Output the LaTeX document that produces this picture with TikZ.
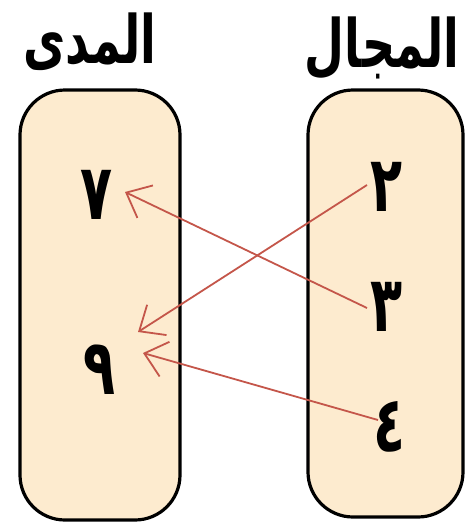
\documentclass[tikz,border=0pt]{standalone}
\usepackage{fontspec}
\usepackage{graphicx}
\newfontfamily\arabicfont[Script=Arabic]{DejaVu Sans}
\TeXXeTstate=1
\usetikzlibrary{arrows.meta}
\definecolor{boxfill}{RGB}{253,235,207}
\definecolor{arrcol}{RGB}{196,86,74}
\newcommand{\tallA}[1]{\scalebox{1.05}[1.55]{#1}}
\newcommand{\tallT}[1]{\scalebox{1.0}[1.45]{#1}}
\tikzset{
  setbox/.style={draw=black, line width=3.2pt, fill=boxfill, rounded corners=45pt, inner sep=0pt},
  digit/.style={font=\arabicfont\bfseries\fontsize{50}{54}\selectfont, inner sep=0pt},
  title/.style={font=\arabicfont\bfseries\fontsize{46}{50}\selectfont, inner sep=0pt},
  arr/.style={draw=arrcol, line width=1.8pt, -{Straight Barb[length=21pt,width=36pt,line width=1.8pt]}}
}
\begin{document}
\begin{tikzpicture}[x=1pt,y=-1pt]
\useasboundingbox (0,0) rectangle (465,530);
\node[setbox, minimum width=160pt, minimum height=430pt] (range) at (100,305) {};
\node[setbox, minimum width=155pt, minimum height=427pt] (domain) at (385.5,303.5) {};
\node[title] (trange) at (90,42) {\tallT{\beginR المدى\endR}};
\node[title] (tdomain) at (382,48) {\tallT{\beginR المجال\endR}};
\node[digit] (d7) at (97,195) {\tallA{\beginR ٧\endR}};
\node[digit] (d9) at (100,370) {\tallA{\beginR ٩\endR}};
\node[digit] (d2) at (387,187) {\tallA{\beginR ٢\endR}};
\node[digit] (d3) at (387,307) {\tallA{\beginR ٣\endR}};
\node[digit] (d4) at (390,427) {\tallA{\beginR ٤\endR}};
\draw[arr] ([shift={(-20,-2)}]d2.center) -- ([shift={(38,-38)}]d9.center);
\draw[arr] ([shift={(-20,1)}]d3.center) -- ([shift={(28,-3)}]d7.center);
\draw[arr] ([shift={(-12,-7)}]d4.center) -- ([shift={(43,-17)}]d9.center);
\end{tikzpicture}
\end{document}
